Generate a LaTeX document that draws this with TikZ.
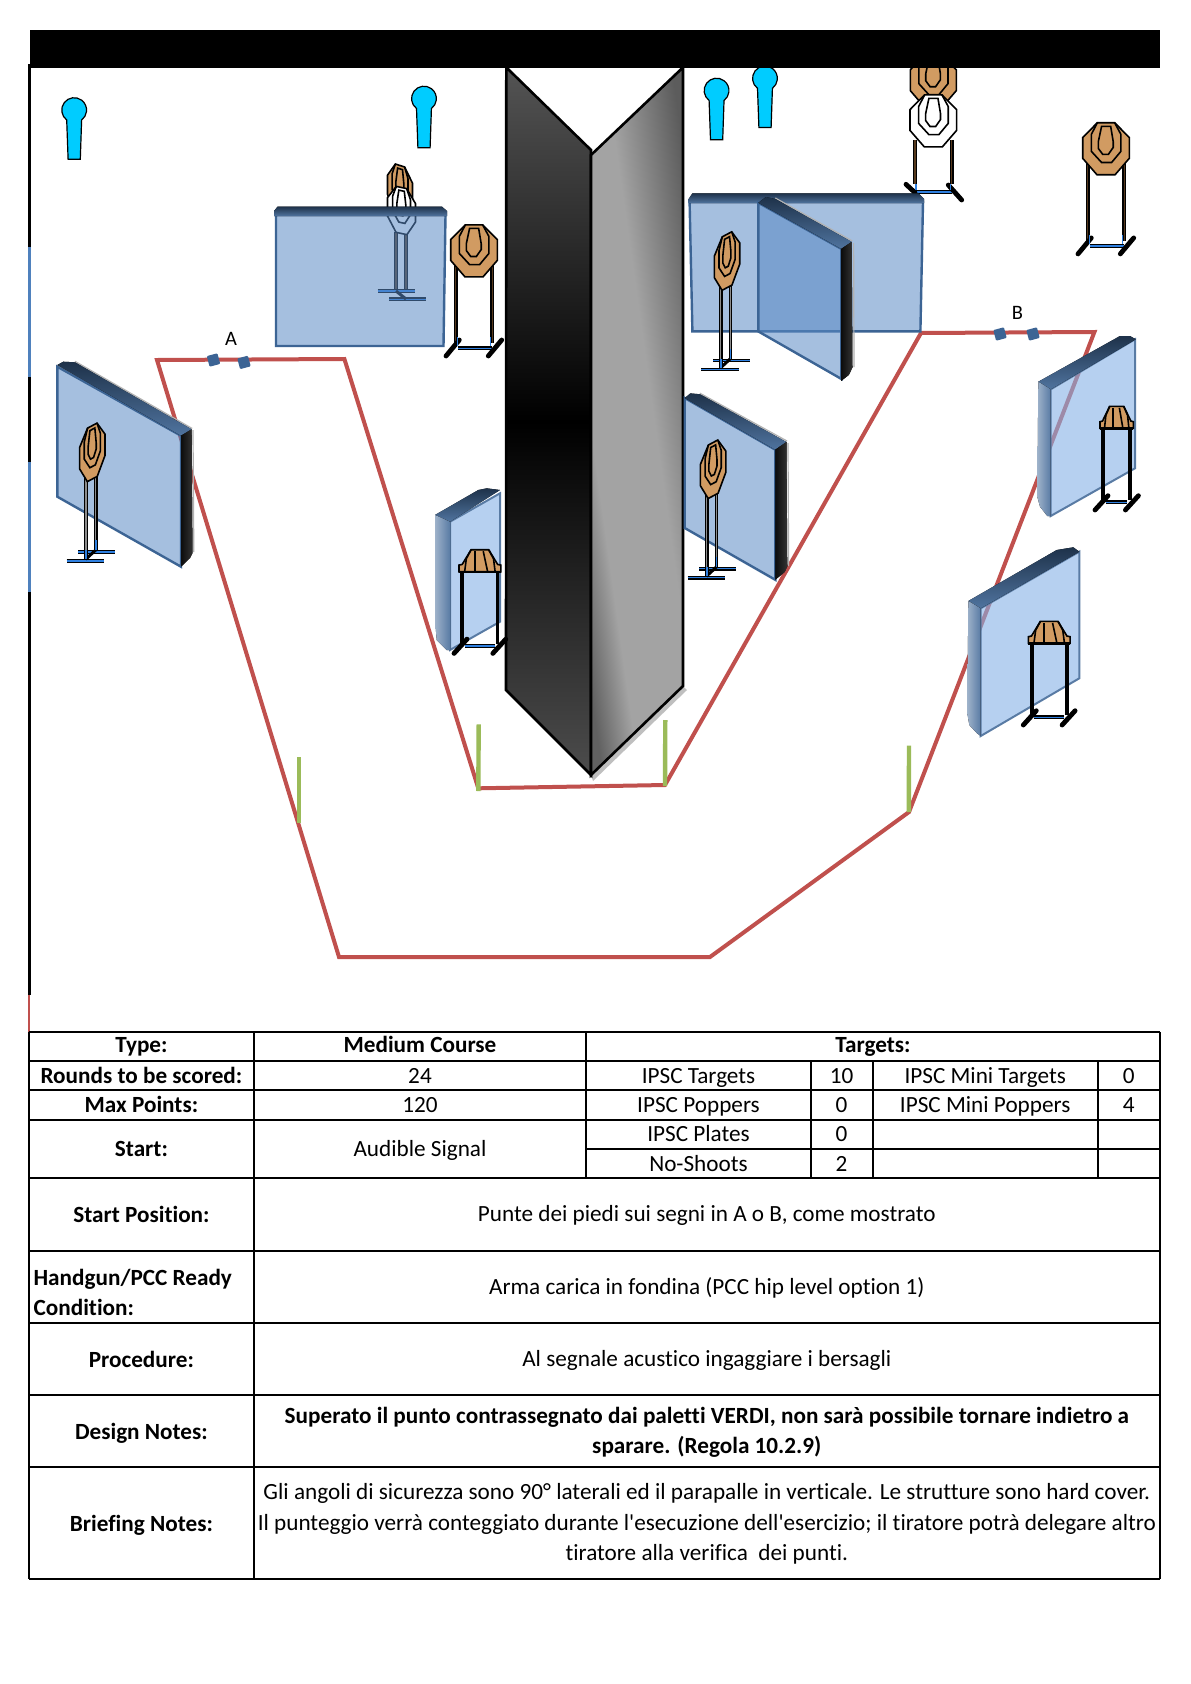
\documentclass[tikz,border=0pt]{standalone}
\usepackage{fontspec}
\setmainfont{Carlito}[Ligatures={TeXOff,NoCommon}]
\definecolor{pathred}{HTML}{C0504D}
\definecolor{postgreen}{HTML}{9BBB59}
\definecolor{nscyan}{HTML}{00CCFF}
\definecolor{tan}{HTML}{D19B62}
\definecolor{wallblue}{HTML}{3C6494}
\definecolor{wallfill}{HTML}{5989C5}
\definecolor{wallpale}{HTML}{86B1E6}
\definecolor{framebar}{HTML}{4F81BD}
\definecolor{footblue}{HTML}{2F80E0}

\pgfdeclarehorizontalshading{panelgrey}{100bp}{color(0bp)=(black!60);color(25bp)=(black!62);color(36bp)=(black!36);color(55bp)=(black!36);color(75bp)=(black!64);color(100bp)=(black!64)}

\tikzset{
  cell/.style={anchor=base,inner sep=0pt,font=\fontsize{23.2}{27}\selectfont},
  cellb/.style={cell,font=\fontsize{23.2}{27}\selectfont\bfseries},
  pointlabel/.style={anchor=center,inner sep=0pt,font=\fontsize{20.5}{24}\selectfont},
  rule/.style={line width=2pt,black},
  headline/.style={line width=1.6pt,black,line join=miter},
  leg/.style={line width=1.2pt,double=#1,double distance=1.3pt},
  leg/.default={black!55!brown},
  foot/.style={line width=4.8pt,black,line cap=round},
  crossbar/.style={line width=1.1pt,double=footblue,double distance=1.6pt},
  wallface/.style={draw=wallblue,line width=2.4pt,fill=wallfill,fill opacity=0.54},
  palewall/.style={draw=wallblue!85,line width=2pt,fill=wallpale,fill opacity=0.6},
  walltop/.style={top color=wallblue!50!black,bottom color=wallblue!90,draw=none},
  wallside/.style={left color=black!95,right color=black!80,draw=none},
  paleside/.style={left color=wallblue!50,right color=wallblue!85,draw=none},
  rim/.style={black!30,line width=1.2pt},
  startmark/.style={fill=wallblue,rounded corners=1pt,minimum size=11pt,inner sep=0pt,rotate=15},
}

% octagon head with its scoring rings: centre, x vector, y vector, fill
\newcommand{\octhead}[4]{%
  \begin{scope}[shift={#1},x={#2},y={#3},headline]
    \draw[fill=#4] (-.37,-1) -- (.37,-1) -- (1,-.43) -- (1,.37) -- (.39,1) -- (-.39,1) -- (-1,.37) -- (-1,-.43) -- cycle;
    \draw (-.37,-1) -- (-.63,-.55) -- (-.63,.1) -- (-.19,.53) -- (.24,.53) -- (.64,.1) -- (.64,-.55) -- (.37,-1);
    \draw (-.19,-.86) -- (.2,-.86) -- (.31,-.27) -- (.31,-.05) -- (.1,.22) -- (-.14,.22) -- (-.33,-.01) -- (-.33,-.27) -- cycle;
  \end{scope}}

% target seen from the front
\newcommand{\frontstand}[1]{%
  \begin{scope}[shift={#1}]
    \draw[leg] (-18.3,14) -- (-18.3,92);
    \draw[leg] (18.3,14) -- (18.3,92);
    \draw[crossbar] (-16,97.5) -- (18,97.5);
    \draw[foot] (-28,105.2) -- (-14.7,89.2);
    \draw[foot] (14.3,105.2) -- (27.7,89.2);
    \draw[line width=1.6pt,footblue] (-16.5,86) -- (-16.5,95);
    \draw[line width=1.6pt,footblue] (16.5,86) -- (16.5,95);
    \octhead{(0,0)}{(23.3,0)}{(0,26)}{tan}
  \end{scope}}

% target turned sideways, on a T base
\newcommand{\sidestand}[1]{%
  \begin{scope}[shift={#1}]
    \draw[crossbar] (-14,99.4) -- (22.7,99.4);
    \draw[crossbar] (-25.6,108.4) -- (11.7,108.4);
    \draw[line width=3pt,black] (-6.6,107) -- (3.4,97.7);
    \draw[leg=black!45] (-6.3,25.7) -- (-6.3,107);
    \draw[leg=black!45] (3.4,24.7) -- (3.4,98);
    \draw[line width=1.6pt,footblue] (-6.3,98) -- (-6.3,107);
    \draw[line width=1.6pt,footblue] (3.4,88) -- (3.4,98);
    \octhead{(0,0)}{(12.7,-6.7)}{(0,26.7)}{tan}
  \end{scope}}

% target seen from far above: centre x, bottom of head, half width
\newcommand{\squatstand}[3]{%
  \begin{scope}[shift={(#1,#2)}]
    \draw[line width=3.8pt,black] ({-#3+3.3},0) -- ({-#3+3.3},72);
    \draw[line width=3.8pt,black] ({#3-3.3},0) -- ({#3-3.3},72);
    \draw[crossbar] ({-#3+6},74) -- ({#3-6},74);
    \draw[foot] ({-#3-5},81.7) -- ({-#3+8},67.4);
    \draw[foot] ({#3-8},81.7) -- ({#3+5},67.4);
    \begin{scope}[x={(#3,0)},y={(0,22)},headline]
      \draw[fill=tan] (-1,0) -- (-1,-.3) -- (-.85,-.33) -- (-.42,-1) -- (.42,-1) -- (.85,-.33) -- (1,-.3) -- (1,0) -- cycle;
      \draw (-.73,0) -- (-.65,-.59) -- (-.42,-1);
      \draw (-.24,0) -- (-.24,-.93);
      \draw (.37,0) -- (.16,-.93);
      \draw (.73,0) -- (.65,-.59) -- (.42,-1);
      \draw[line width=2.4pt] (-1,0) -- (1,0);
    \end{scope}
  \end{scope}}

% blue no-shoot: centre of the head
\newcommand{\noshoot}[1]{%
  \draw[black,line width=1.2pt,fill=nscyan,shift={#1}] (-7.5,9.8) arc[start angle=127,end angle=413,radius=12.4] -- (6.1,49) -- (-6.1,49) -- cycle;
}

\begin{document}
\begin{tikzpicture}[x=1pt,y=-1pt]
\useasboundingbox (0,0) rectangle (1191,1684);
\fill[white] (0,0) rectangle (1191,1684);

% shooting area
\draw[pathred,line width=4pt,line join=miter] (157,360) -- (344.4,359) -- (478.3,788.3) -- (665,785) -- (921,333) -- (1094.4,332) -- (909,812) -- (710,957) -- (339,957) -- cycle;
\draw[postgreen,line width=4.4pt] (299,757) -- (299,823);
\draw[postgreen,line width=4.4pt] (478.7,724.3) -- (478.3,791);
\draw[postgreen,line width=4.4pt] (665.3,720) -- (665,786);
\draw[postgreen,line width=4.4pt] (909,745.5) -- (908.8,812);

% start marks
\node[startmark] (markA1) at (213.5,360) {};
\node[startmark] (markA2) at (244,362.4) {};
\node[startmark] (markB1) at (1000,334) {};
\node[startmark] (markB2) at (1033,334) {};
\node[pointlabel] (labelA) at (231,338.7) {A};
\node[pointlabel] (labelB) at (1017.5,312.7) {B};

% central barricade
\fill[black!25] (593,781) -- (687,690) -- (683,686) -- (591,775) -- cycle;
\draw[black,line width=2.6pt,top color=black!67,bottom color=black!70,middle color=black] (506.3,67.4) -- (591,150) -- (591,775) -- (506,690) -- cycle;
\draw[black,line width=2.6pt,shading=panelgrey,shading angle=8] (683,67.4) -- (591,155) -- (591,775) -- (683,686) -- cycle;

% no-shoots
\noshoot{(74.2,110.2)}
\noshoot{(424,98.7)}
\noshoot{(716.6,90.7)}
\noshoot{(765,78.5)}

% target hidden behind the back wall
\octhead{(400,189.5)}{(12.5,4)}{(0,24)}{tan}
\draw[leg] (396,232) -- (396,292);
\draw[leg] (406,232) -- (406,292);
\draw[crossbar] (377.7,290.9) -- (415,290.9);
\draw[crossbar] (389,299.3) -- (426,299.3);
\draw[line width=3pt,black] (396,291) -- (406,299);
\octhead{(401.5,210.5)}{(14,3)}{(0,23)}{white}

% back wall
\draw[wallface] (276,215) -- (445.5,215) -- (443.5,346) -- (276,346) -- cycle;
\fill[walltop] (274,211) -- (277.5,206.7) -- (442,206.7) -- (447,211) -- (447,216) -- (274,216) -- cycle;
\frontstand{(474,250.8)}
\frontstand{(1106,148.7)}

% top target pair, white over brown
\octhead{(933.3,81)}{(23,0)}{(0,26)}{tan}
\draw[leg] (915,140) -- (915,184);
\draw[leg] (951.7,140) -- (951.7,184);
\draw[crossbar] (915,191.7) -- (952,191.7);
\draw[foot] (906,184.3) -- (915,192.7);
\draw[foot] (948.3,185) -- (961.7,200);
\draw[line width=1.6pt,footblue] (916,184) -- (916,190);
\draw[line width=1.6pt,footblue] (950.5,184) -- (950.5,190);
\octhead{(933.3,120.8)}{(23.3,0)}{(0,26)}{white}

% back right wall and its return
\draw[wallface] (689.6,202) -- (923,202) -- (920.4,331.4) -- (692.4,331.4) -- cycle;
\fill[walltop] (688.6,199) -- (692.4,193.3) -- (918.5,193.3) -- (924,199) -- (924,203) -- (688.6,203) -- cycle;
\draw[wallface] (758.3,202.8) -- (841.3,248.8) -- (841.3,378.9) -- (758.3,331.4) -- cycle;
\draw[rim] (775.3,198) -- (852.2,240.9);
\draw[rim] (853.6,243) -- (854,367);
\fill[walltop] (758.3,202.8) -- (765.9,197) -- (775.3,199) -- (851.7,241.9) -- (841.3,248.8) -- cycle;
\fill[wallside] (841.3,248.8) -- (851.7,241.9) -- (852.5,367.4) -- (848.8,375) -- (841.3,380.8) -- cycle;
\sidestand{(727,261)}

% left wall
\draw[wallface] (57.3,366.7) -- (181,435.7) -- (181,566.7) -- (57.3,496.7) -- cycle;
\draw[rim] (75,361.3) -- (192.2,428.5);
\draw[rim] (193,430) -- (193.8,552);
\fill[walltop] (57.3,365) -- (63.3,361.7) -- (75,362.3) -- (191.7,429.3) -- (181,435.7) -- cycle;
\fill[wallside] (181,435.7) -- (191.7,429.3) -- (192.7,553) -- (190,558) -- (181,566.7) -- cycle;
\sidestand{(92.3,452.3)}

% wall right of the barricade
\draw[wallface] (684.7,398) -- (775.3,449.7) -- (775.3,579.8) -- (684.7,528) -- cycle;
\draw[rim] (699.9,393.2) -- (787,441);
\draw[rim] (788,443) -- (788.6,566);
\fill[walltop] (684.7,398) -- (690.4,393.4) -- (699.9,394.2) -- (786.5,442) -- (775.3,449.7) -- cycle;
\fill[wallside] (775.3,449.7) -- (786.5,442) -- (787.3,566.4) -- (784.7,572) -- (775.3,579.8) -- cycle;
\sidestand{(713.1,469.2)}

% wall left of the barricade
\draw[palewall] (450,521.7) -- (500,493.3) -- (500,621.7) -- (450,650) -- cycle;
\fill[walltop] (435,515) -- (478.3,490) -- (486.7,488.3) -- (500,490) -- (450,521.7) -- cycle;
\fill[paleside] (435,515) -- (450,521.7) -- (450,650) -- (446.7,650) -- (436.7,640) -- (435,620) -- cycle;
\squatstand{479.9}{571.7}{20.9}

% far right walls
\draw[palewall] (1050.7,389.3) -- (1135,339.3) -- (1135,468.3) -- (1050.7,516) -- cycle;
\fill[walltop] (1038.3,381.7) -- (1120,336) -- (1130,336) -- (1135.7,339.3) -- (1050.7,389.3) -- cycle;
\fill[paleside] (1038.3,381.7) -- (1050.7,389.3) -- (1050.7,516) -- (1047.3,516) -- (1040,506.7) -- (1037.3,496.7) -- cycle;
\squatstand{1116.7}{428.3}{16.7}
\draw[palewall] (980.7,608.3) -- (1079.3,551.7) -- (1079.3,678.3) -- (980.7,736) -- cycle;
\fill[walltop] (968.3,601) -- (1056.7,550) -- (1073.3,547.3) -- (1079.3,551.7) -- (980.7,608.3) -- cycle;
\fill[paleside] (968.3,601) -- (980.7,608.3) -- (980.7,736) -- (976.7,733) -- (969.3,725) -- (967.3,713.3) -- cycle;
\squatstand{1049.2}{643.3}{20.9}

% title bar and left frame
\fill[black] (30,30) rectangle (1160,67.5);
\draw[black,line width=3.6pt] (29.3,64) -- (29.3,995);
\draw[framebar,line width=3.6pt] (29.3,247) -- (29.3,377);
\draw[framebar,line width=3.6pt] (29.3,462) -- (29.3,592);
\draw[pathred,line width=2pt] (29,995) -- (29,1032);

% table rules
\foreach \y in {1031.9,1061,1090.3,1119.5,1178,1250.9,1322.9,1394.8,1466.8,1579.4}
  \draw[rule] (29,\y) -- (1160,\y);
\draw[rule] (586.4,1148.8) -- (1160,1148.8);
\foreach \x in {29,253.7,1160}
  \draw[rule] (\x,1031.9) -- (\x,1579.4);
\draw[rule] (586.4,1031.9) -- (586.4,1178);
\foreach \x in {810.5,872.8,1097.6}
  \draw[rule] (\x,1061) -- (\x,1178);

% table text
\node[cellb] (type) at (141.4,1052.4) {Type:};
\node[cellb] (rounds) at (141.4,1083.8) {Rounds to be scored:};
\node[cellb] (maxpts) at (141.4,1112.6) {Max Points:};
\node[cellb] (start) at (141.4,1156) {Start:};
\node[cellb] (startpos) at (141.4,1222.5) {Start Position:};
\node[cellb,anchor=base west] (ready1) at (33.4,1285.8) {Handgun/PCC Ready};
\node[cellb,anchor=base west] (ready2) at (33.4,1315.9) {Condition:};
\node[cellb] (proc) at (141.4,1367.8) {Procedure:};
\node[cellb] (design) at (141.4,1439.4) {Design Notes:};
\node[cellb] (brief) at (141.4,1531) {Briefing Notes:};

\node[cellb] (course) at (420,1052.4) {Medium Course};
\node[cell] (roundsval) at (420,1083.8) {24};
\node[cell] (maxval) at (420,1112.6) {120};
\node[cell] (signal) at (420,1156) {Audible Signal};
\node[cellb] (targets) at (873,1052.4) {Targets:};

\node[cell] (ipsct) at (698.5,1083.8) {IPSC Targets};
\node[cell] (ipscp) at (698.5,1112.6) {IPSC Poppers};
\node[cell] (plates) at (698.5,1141.8) {IPSC Plates};
\node[cell] (noshoots) at (698.5,1171.5) {No-Shoots};
\node[cell] (ipsctv) at (841.6,1083.8) {10};
\node[cell] (ipscpv) at (841.6,1112.6) {0};
\node[cell] (platesv) at (841.6,1141.8) {0};
\node[cell] (noshootsv) at (841.6,1171.5) {2};
\node[cell] (minit) at (985.2,1083.8) {IPSC Mini Targets};
\node[cell] (minip) at (985.2,1112.6) {IPSC Mini Poppers};
\node[cell] (minitv) at (1128.8,1083.8) {0};
\node[cell] (minipv) at (1128.8,1112.6) {4};

\node[cell] (posval) at (706.8,1221) {Punte dei piedi sui segni in A o B, come mostrato};
\node[cell] (readyval) at (706.8,1294.5) {Arma carica in fondina (PCC hip level option 1)};
\node[cell] (procval) at (706.8,1366.5) {Al segnale acustico ingaggiare i bersagli};
\node[cellb] (design1) at (706.8,1423) {Superato il punto contrassegnato dai paletti VERDI, non sarà possibile tornare indietro a};
\node[cellb] (design2) at (706.8,1453.8) {sparare. (Regola 10.2.9)};
\node[cell] (brief1) at (706.8,1499.6) {Gli angoli di sicurezza sono 90° laterali ed il parapalle in verticale. Le strutture sono hard cover.};
\node[cell] (brief2) at (706.8,1530) {Il punteggio verrà conteggiato durante l'esecuzione dell'esercizio; il tiratore potrà delegare altro};
\node[cell] (brief3) at (706.8,1560.2) {tiratore alla verifica\ \ dei punti.};
\end{tikzpicture}
\end{document}
